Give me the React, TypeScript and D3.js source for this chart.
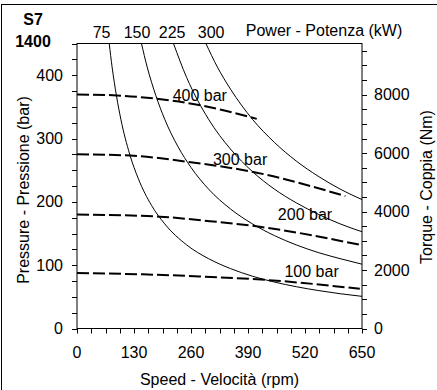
import * as d3 from "d3";

const speedTicks = [0, 130, 260, 390, 520, 650];
const pressureTicks = [0, 100, 200, 300, 400];
const torqueTicks = [0, 2000, 4000, 6000, 8000];

// power curves, kW -> [rpm, Nm]
const powerLevels = [75, 150, 225, 300];
const powerLabelSpeed = [56, 137, 217, 306];
const power75 = [[73.5, 9750], [80, 8950], [90, 7960], [100, 7160], [120, 5970], [140, 5120], [170, 4210], [200, 3580], [250, 2860], [300, 2390], [350, 2050], [400, 1790], [450, 1590], [500, 1430], [550, 1300], [600, 1190], [650, 1100]];
const power150 = [[147, 9750], [160, 8950], [180, 7960], [200, 7160], [230, 6230], [260, 5510], [300, 4770], [350, 4090], [400, 3580], [450, 3180], [500, 2860], [550, 2600], [600, 2390], [650, 2200]];
const power225 = [[220, 9750], [250, 8590], [300, 7160], [350, 6140], [400, 5370], [450, 4770], [500, 4300], [550, 3910], [600, 3580], [650, 3310]];
const power300 = [[294, 9750], [320, 8950], [350, 8190], [400, 7160], [450, 6370], [500, 5730], [550, 5210], [600, 4770], [650, 4410]];

// pressure curves, [rpm, bar]
const pressureLabels = ["400 bar", "300 bar", "200 bar", "100 bar"];
const bar400 = [[0, 369.5], [91, 368], [182, 362.7], [285, 352], [410, 331]];
const bar300 = [[0, 275], [122, 273], [255, 263], [410, 246], [612, 209]];
const bar200 = [[0, 180], [189, 176.5], [303, 169.5], [417, 160.6], [643, 132.5]];
const bar100 = [[0, 87.5], [150, 85.5], [280, 82.2], [447, 75.9], [645, 62.7]];
// label anchors [rpm, bar]
const pressureLabelPos = [[280, 360], [372, 258], [520, 171], [535, 82]];

const W = 437;
const H = 390;
const left = 77, right = 362, top = 43.5, bottom = 328.5;
const font = "'Liberation Sans', Arial, sans-serif";

export default function App() {
  const x = d3.scaleLinear().domain([0, 650]).range([left, right]);
  const yP = d3.scaleLinear().domain([0, 450]).range([bottom, top]);
  const yT = d3.scaleLinear().domain([0, 9750]).range([bottom, top]);

  const powerLine = d3.line<number[]>().x((d) => x(d[0])).y((d) => yT(d[1])).curve(d3.curveMonotoneX);
  const barLine = d3.line<number[]>().x((d) => x(d[0])).y((d) => yP(d[1])).curve(d3.curveMonotoneX);

  const xMinor = d3.range(0, 650.1, 32.5);
  const pMinor = d3.range(0, 450.1, 25);
  const tMinor = d3.range(0, 9750, 500);

  return (
    <svg width={W} height={H} style={{ position: "absolute", left: 0, top: 0 }} fontFamily={font} fontSize={16}>
      <rect x={0} y={0} width={W} height={H} fill="#fff" />
      <rect x={1.5} y={4.5} width={460} height={420} fill="none" stroke="#000" />
      <defs>
        <clipPath id="plot">
          <rect x={left} y={top} width={right - left} height={bottom - top} />
        </clipPath>
      </defs>

      <g clipPath="url(#plot)" fill="none" stroke="#000">
        {[power75, power150, power225, power300].map((d, i) => (
          <path key={i} d={powerLine(d)!} strokeWidth={1} />
        ))}
        {[bar400, bar300, bar200, bar100].map((d, i) => (
          <path key={i} d={barLine(d)!} strokeWidth={2} strokeDasharray="12,4" />
        ))}
      </g>

      {pressureLabels.map((t, i) => (
        <text key={t} x={x(pressureLabelPos[i][0])} y={yP(pressureLabelPos[i][1])} textAnchor="middle">
          {t}
        </text>
      ))}

      {/* frame */}
      <rect x={left} y={top} width={right - left} height={bottom - top} fill="none" stroke="#000" />

      {/* bottom axis */}
      {xMinor.map((v) => (
        <line key={v} x1={Math.round(x(v)) + 0.5} x2={Math.round(x(v)) + 0.5} y1={bottom} y2={bottom + 5} stroke="#000" />
      ))}
      {speedTicks.map((v) => (
        <text key={v} x={x(v)} y={358} textAnchor="middle">{v}</text>
      ))}
      <text x={(left + right) / 2} y={385} textAnchor="middle">Speed - Velocità (rpm)</text>

      {/* left axis */}
      {pMinor.map((v) => (
        <line key={v} x1={left - 5} x2={left} y1={Math.round(yP(v)) + 0.5} y2={Math.round(yP(v)) + 0.5} stroke="#000" />
      ))}
      {pressureTicks.map((v) => (
        <text key={v} x={63} y={yP(v)} dy="0.35em" textAnchor="end">{v}</text>
      ))}
      <text transform={`translate(28.5,${(top + bottom) / 2 + 4}) rotate(-90)`} textAnchor="middle">
        Pressure - Pressione (bar)
      </text>

      {/* right axis */}
      {tMinor.map((v) => (
        <line key={v} x1={right} x2={right + 5} y1={Math.round(yT(v)) + 0.5} y2={Math.round(yT(v)) + 0.5} stroke="#000" />
      ))}
      {torqueTicks.map((v) => (
        <text key={v} x={374} y={yT(v)} dy="0.35em" textAnchor="start">{v}</text>
      ))}
      <text transform={`translate(432,187) rotate(-90)`} textAnchor="middle">
        Torque - Coppia (Nm)
      </text>

      {/* top power labels */}
      {powerLevels.map((p, i) => (
        <text key={p} x={x(powerLabelSpeed[i])} y={38} textAnchor="middle">{p}</text>
      ))}
      <text x={324} y={36} textAnchor="middle">Power - Potenza (kW)</text>

      <text x={33} y={25} textAnchor="middle" fontWeight="bold">S7</text>
      <text x={33} y={47} textAnchor="middle" fontWeight="bold">1400</text>
    </svg>
  );
}
